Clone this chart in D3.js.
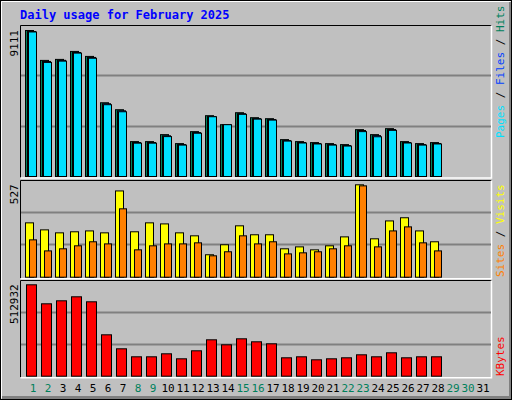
<!DOCTYPE html>
<html>
<head>
<meta charset="utf-8">
<script src="https://cdn.jsdelivr.net/npm/d3@7"></script>
<style>
  body { margin: 0; background: #fff; }
  text { font-family: "DejaVu Sans Mono", monospace; }
</style>
</head>
<body>
<div id="chart"></div>
<script>
const days = d3.range(1, 32);
const weekend = [1, 2, 8, 9, 15, 16, 22, 23, 29, 30];
const hits = [9111, 7245, 7308, 7805, 7494, 4602, 4167, 2177, 2177, 2612, 2052, 2799, 3794, 3234,
  3980, 3669, 3607, 2301, 2177, 2115, 2052, 1990, 2923, 2612, 2985, 2177, 2052, 2115];
const files = [9050, 7180, 7250, 7740, 7430, 4540, 4100, 2120, 2120, 2540, 1990, 2740, 3740, 3234,
  3920, 3610, 3550, 2240, 2120, 2060, 1990, 1930, 2870, 2550, 2930, 2120, 1990, 2060];
const pages = [9020, 7120, 7200, 7700, 7380, 4480, 4040, 2080, 2080, 2490, 1960, 2700, 3730, 3234,
  3880, 3580, 3520, 2210, 2090, 2030, 1960, 1900, 2800, 2480, 2880, 2090, 1960, 2030];
const visits = [310, 270, 253, 259, 264, 253, 492, 259, 310, 304, 253, 236, 128, 185,
  293, 242, 242, 162, 173, 156, 179, 230, 527, 219, 321, 339, 264, 202];
const sites = [213, 150, 162, 179, 202, 190, 390, 156, 179, 190, 190, 196, 122, 145,
  236, 190, 202, 133, 139, 145, 162, 179, 521, 173, 264, 287, 196, 150];
const kbytes = [512932, 406300, 423140, 445590, 417530, 232330, 153770, 108870, 108870, 125710,
  97650, 142540, 204270, 176210, 209890, 193050, 181830, 103260, 108870, 92030, 97650, 103260,
  120090, 108870, 131320, 103260, 108870, 108870];

const W = 512, H = 400;
const svg = d3.select("#chart").append("svg").attr("width", W).attr("height", H);

// background + bevel
svg.append("rect").attr("width", W).attr("height", H).attr("fill", "#c0c0c0");
svg.append("path").attr("d", "M1.5,398.5V1.5H510.5").attr("stroke", "#fff").attr("fill", "none");
svg.append("path").attr("d", "M2,397.5H510.5V2").attr("stroke", "#808080").attr("stroke-width", 3).attr("fill", "none");
svg.append("rect").attr("x", 0.5).attr("y", 0.5).attr("width", W - 1).attr("height", H - 1)
  .attr("fill", "none").attr("stroke", "#000");

svg.append("text").attr("x", 20).attr("y", 19).attr("fill", "#0000ff")
  .attr("font-size", 12).attr("font-weight", "bold").text("Daily usage for February 2025");

const x = d3.scaleLinear().domain([1, 32]).range([25, 25 + 31 * 15]);

const panels = [
  { top: 25, bottom: 176, max: 9111, ylab: 30 },
  { top: 180, bottom: 276.7, max: 527, ylab: 184.3 },
  { top: 280, bottom: 375.7, max: 512932, ylab: 284.3 }
];
panels.forEach(p => {
  p.y = d3.scaleLinear().domain([0, p.max]).range([p.bottom, p.ylab]);
  // frame
  svg.append("path").attr("d", `M20.5,${p.bottom + 1.5}V${p.top + 0.5}H491.5`)
    .attr("stroke", "#000").attr("fill", "none");
  svg.append("path").attr("d", `M20.5,${p.bottom + 2}H491.5V${p.top + 0.5}`)
    .attr("stroke", "#fff").attr("stroke-width", 1.5).attr("fill", "none");
  // gridlines at thirds
  [1, 2].forEach(k => {
    const gy = Math.round(p.bottom - (p.bottom - p.top) * k / 3) + 0.5;
    svg.append("line").attr("x1", 21).attr("x2", 491).attr("y1", gy).attr("y2", gy)
      .attr("stroke", "#808080").attr("stroke-width", 2);
  });
  svg.append("text").attr("transform", `translate(18,${p.ylab}) rotate(-90)`)
    .attr("text-anchor", "end").attr("font-size", 11).attr("fill", "#000").text(p.max);
});

function bars(data, panel, dx, w, color) {
  svg.append("g").selectAll("rect").data(data).enter().append("rect")
    .attr("x", (d, i) => x(i + 1) + dx + 0.5)
    .attr("y", d => panel.y(d) + 0.5)
    .attr("width", w)
    .attr("height", d => panel.bottom - panel.y(d))
    .attr("fill", color).attr("stroke", "#000");
}
bars(hits, panels[0], 0, 8, "#00805c");
bars(files, panels[0], 2, 8, "#0040ff");
bars(pages, panels[0], 3, 8, "#00e0ff");
bars(visits, panels[1], 0, 8, "#ffff00");
bars(sites, panels[1], 4, 7, "#ff8000");
bars(kbytes, panels[2], 1, 10, "#ff0000");

// day labels
svg.append("g").selectAll("text").data(days).enter().append("text")
  .attr("x", d => x(d) + 8).attr("y", 392).attr("text-anchor", "middle")
  .attr("font-size", 11)
  .attr("fill", d => weekend.includes(d) ? "#00805c" : "#000").text(d => d);

// right-side legends
function legend(yBase, parts) {
  const t = svg.append("text").attr("transform", `translate(504,${yBase}) rotate(-90)`)
    .attr("font-size", 11);
  parts.forEach(([s, c]) => t.append("tspan").attr("fill", c).text(s));
}
legend(138, [["Pages", "#00e0ff"], [" / ", "#000"], ["Files", "#0040ff"], [" / ", "#000"], ["Hits", "#00805c"]]);
legend(277, [["Sites", "#ff8000"], [" / ", "#000"], ["Visits", "#ffff00"]]);
legend(376, [["KBytes", "#ff0000"]]);
</script>
</body>
</html>
